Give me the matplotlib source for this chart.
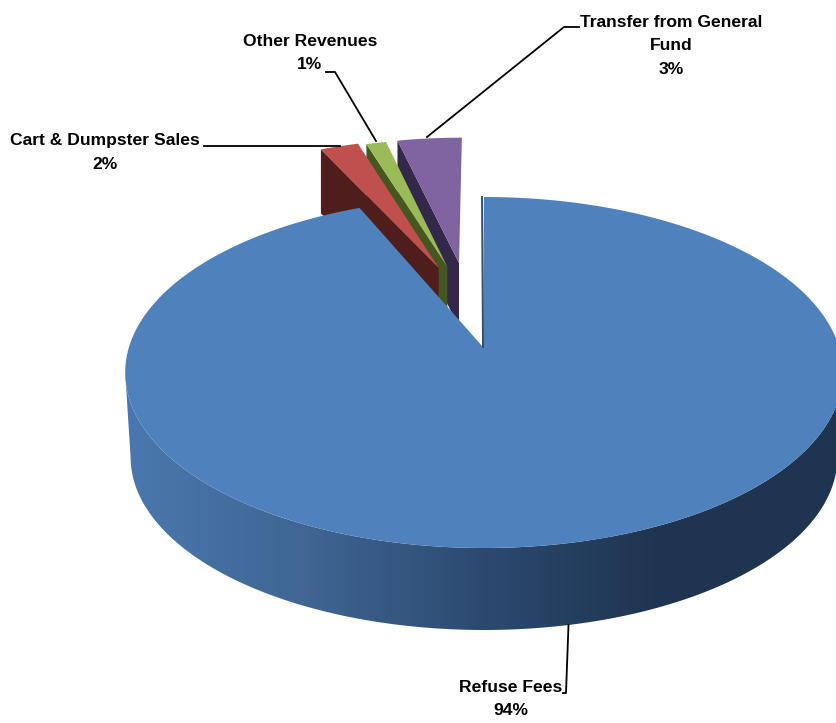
import numpy as np
import matplotlib
matplotlib.use("Agg")
import matplotlib.pyplot as plt
from matplotlib.colors import LinearSegmentedColormap
from matplotlib.patches import Polygon

names = ["Refuse Fees", "Cart & Dumpster Sales", "Other Revenues", "Transfer from General\nFund"]
shares = [93.5, 2.0, 1.05, 3.45]
top_colors = ["#4f81bd", "#c0504d", "#9bbb59", "#8064a2"]
wall_colors = ["#2f5272", "#4f1e1c", "#46561f", "#33284a"]
explode = [0, 0.512, 0.512, 0.531]
explode_dir = [0, -15.5, -12.5, -8.2]
radii = [1, 0.98, 0.97, 0.955]
spread = 1.07   # pulled out slices look a little wider in the reference

# centre of the pie in pixels and the perspective of its top face
cx, cy = 484, 347
rx, ry = 355, 171.8
k = 0.1453
depth = 64


def project(u, v, scale=1.0, down=0.0):
    w = 1 + k * v
    return cx + scale * rx * u / w, cy + down - scale * ry * v / w


def rim(t, off=(0, 0), r=1.0):
    t = np.radians(t)
    return off[0] + r * np.sin(t), off[1] + r * np.cos(t)


fig = plt.figure(figsize=(8.36, 7.23), dpi=100)
ax = fig.add_axes([0, 0, 1, 1])

edges = np.cumsum([0] + shares) * 360 / sum(shares)

# outer wall of the main slice, shaded from left to right
t_side = np.degrees(np.arccos(-k))
t = np.linspace(t_side, 360 - t_side, 300)
up = project(*rim(t))
low = project(*rim(t), scale=0.985, down=85)
wall = Polygon(np.column_stack([np.r_[up[0], low[0][::-1]], np.r_[up[1], low[1][::-1]]]),
               closed=True, fc="none", ec="none")
ax.add_patch(wall)
shade = LinearSegmentedColormap.from_list("side", ["#4a78ae", "#3f6694", "#2c4a70", "#1f3450", "#1f3450"])
im = ax.imshow(np.linspace(0, 1, 512).reshape(1, -1), cmap=shade, extent=[125, 840, 640, 360],
               aspect="auto", zorder=1)
im.set_clip_path(wall)

# small slices, back to front
for i in [3, 2, 1]:
    off = rim(explode_dir[i], r=explode[i])
    t = 360 - (360 - np.linspace(edges[i], edges[i + 1], 20)) * spread
    xo, yo = project(*rim(t, off, radii[i]))
    xa, ya = project(*off)
    ax.fill([xo[0], xa, xa, xo[0]], [yo[0], ya, ya + depth, yo[0] + depth],
            color=wall_colors[i], lw=0, zorder=2)
    ax.fill(np.r_[xa, xo], np.r_[ya, yo], color=top_colors[i], lw=0, zorder=2)

# top of the main slice
t = np.linspace(edges[0], edges[1], 400)
xo, yo = project(*rim(t))
ax.fill(np.r_[cx - 1, xo], np.r_[cy, yo], color=top_colors[0], lw=0, zorder=3)
ax.plot([xo[0] - 2, cx - 1], [yo[0], cy], color=wall_colors[0], lw=1.4, zorder=3)

label_pos = [(511, 699), (105, 152.5), (310, 53), (671, 46)]
leaders = [
    ([563, 566, 568.5], [693, 693, 625]),
    ([204, 340], [146, 146]),
    ([326, 335, 376], [72, 72, 141]),
    ([579, 564, 427], [27, 27, 137]),
]
for name, share, pos, line in zip(names, shares, label_pos, leaders):
    ax.text(pos[0], pos[1], f"{name}\n{round(share)}%", ha="center", va="center", multialignment="center",
            family="Liberation Sans", weight="bold", fontsize=12.6, linespacing=1.68, color="black", zorder=5)
    ax.plot(line[0], line[1], color="black", lw=1.3, zorder=4)

ax.set_xlim(0, 836)
ax.set_ylim(723, 0)
ax.axis("off")

fig.savefig("out.png", dpi=100)
